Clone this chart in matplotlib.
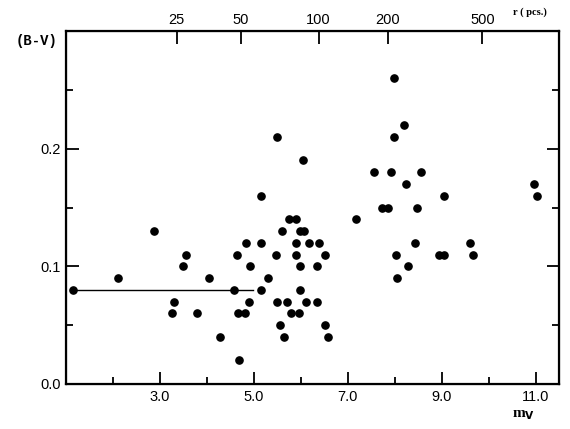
import matplotlib
matplotlib.use("Agg")
from matplotlib import pyplot as plt
from matplotlib.ticker import MultipleLocator
import numpy as np

# apparent magnitude m_V and colour (B-V)
mv = [1.14, 2.10, 2.87, 3.55, 3.50, 4.04, 3.30, 3.25, 3.79, 4.29,
      4.69, 4.58, 4.67, 4.81, 4.90, 5.16, 5.50, 5.56, 5.65, 5.70,
      5.80, 5.96, 5.99, 4.84, 5.15, 5.89, 6.17, 6.38, 4.64, 5.47,
      5.89, 6.51, 4.92, 5.99, 6.35, 5.30, 6.11, 6.35, 6.52, 6.57,
      5.49, 6.04, 5.16, 5.74, 5.89, 5.59, 5.99, 6.07,
      7.18, 7.99, 8.20, 7.99, 7.55, 7.93, 8.57, 8.25, 9.05, 7.74,
      7.86, 8.47, 8.43, 8.03, 8.29, 8.06, 8.94, 9.06, 9.61, 9.66,
      10.96, 11.04]
bv = [0.080, 0.090, 0.130, 0.110, 0.100, 0.090, 0.070, 0.060, 0.060, 0.040,
      0.020, 0.080, 0.060, 0.060, 0.070, 0.080, 0.070, 0.050, 0.040, 0.070,
      0.060, 0.060, 0.080, 0.120, 0.120, 0.120, 0.120, 0.120, 0.110, 0.110,
      0.110, 0.110, 0.100, 0.100, 0.100, 0.090, 0.070, 0.070, 0.050, 0.040,
      0.210, 0.190, 0.160, 0.140, 0.140, 0.130, 0.130, 0.130,
      0.140, 0.260, 0.220, 0.210, 0.180, 0.180, 0.180, 0.170, 0.160, 0.150,
      0.150, 0.150, 0.120, 0.110, 0.100, 0.090, 0.110, 0.110, 0.120, 0.110,
      0.170, 0.160]

# horizontal segment at (B-V) = 0.08
seg_x = [1.14, 4.98]
seg_y = [0.08, 0.08]

# distance scale on top: r (pcs.) and where its ticks sit in m_V
r_labels = ["25", "50", "100", "200", "500"]
r_pos = [3.36, 4.73, 6.38, 7.85, 9.87]

plt.rcParams['font.family'] = ['Liberation Sans', 'DejaVu Sans']

fig = plt.figure(figsize=(5.7, 4.29), dpi=100)
ax = fig.add_axes([0.1158, 0.1049, 0.8649, 0.8228])

ax.plot(seg_x, seg_y, "-", c="black", lw=1.0)
ax.plot(mv, bv, "o", c="black", ms=5.2, mec="black")

ax.set_xlim(1.0, 11.5)
ax.set_ylim(0.0, 0.3)

ax.xaxis.set_minor_locator(MultipleLocator(1.0))
ax.set_xticks([3.0, 5.0, 7.0, 9.0, 11.0])
ax.set_xticklabels(["3.0", "5.0", "7.0", "9.0", "11.0"])
ax.set_yticks([0.0, 0.1, 0.2])
ax.set_yticklabels(["0.0", "0.1", "0.2"])
ax.yaxis.set_minor_locator(MultipleLocator(0.05))

ax.tick_params(which="both", direction="in", width=1.3, labelsize=10.5,
               top=False, right=True, labelright=False)
ax.tick_params(which="major", length=9, pad=4)
ax.tick_params(which="minor", length=5)

for s in ax.spines.values():
    s.set_linewidth(1.6)

ax2 = ax.twiny()
ax2.set_xlim(ax.get_xlim())
ax2.set_xticks(r_pos)
ax2.set_xticklabels(r_labels)
ax2.tick_params(direction="in", length=9, width=1.3, labelsize=10.5, pad=3)
ax2.xaxis.set_minor_locator(plt.NullLocator())

fig.text(0.027, 0.905, "(B-V)", fontsize=10, fontweight="bold",
         family=["Liberation Mono", "DejaVu Sans Mono"], ha="left", va="center")
fig.text(0.90, 0.972, "r ( pcs.)", fontsize=7.5, fontweight="bold",
         family=["Liberation Serif", "DejaVu Serif"], ha="left", va="center")
fig.text(0.918, 0.033, r"m$_\mathbf{V}$", fontsize=11, fontweight="bold",
         family=["Liberation Serif", "DejaVu Serif"], ha="center", va="center")

fig.savefig("out.png", dpi=100)
